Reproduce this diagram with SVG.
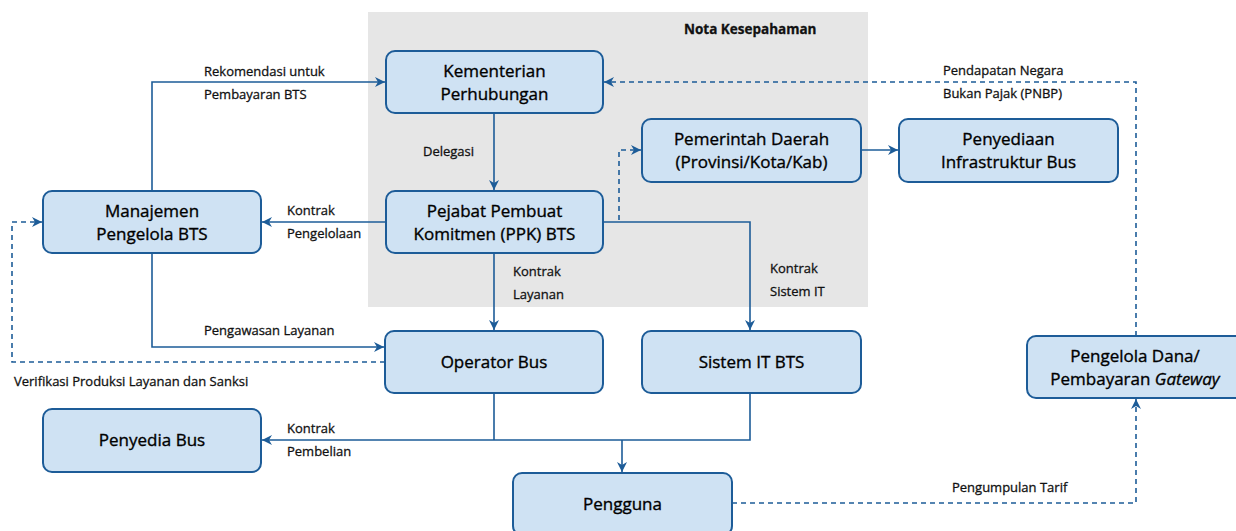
<svg xmlns="http://www.w3.org/2000/svg" width="1236" height="531" viewBox="0 0 1236 531">
<style>
.node rect{fill:#cfe2f3;stroke:#1d5c98;stroke-width:2}
.node text{font-family:"Open Sans","Liberation Sans",sans-serif;font-size:17px;fill:#000;stroke:#000;stroke-width:0.35;text-anchor:middle}
.lbl{font-family:"Open Sans","Liberation Sans",sans-serif;font-size:13px;fill:#111;stroke:#111;stroke-width:0.3}
.c{fill:none;stroke:#1d5c98;stroke-width:1.6}
.d{stroke-dasharray:5 4}
</style>
<defs>
<marker id="a" viewBox="0 0 10 10" refX="10" refY="5" markerWidth="10" markerHeight="10" markerUnits="userSpaceOnUse" orient="auto">
<path d="M0,0 L10,5 L0,10 L3,5 z" fill="#1d5c98"/>
</marker>
</defs>
<rect x="368" y="12" width="500" height="295" fill="#e6e6e6"/>
<text class="lbl" x="684" y="34" style="font-weight:700;font-size:13.5px">Nota Kesepahaman</text>
<g id="connectors">
<path class="c" d="M152,191 V82 H385" marker-end="url(#a)"/>
<path class="c" d="M494,113 V190" marker-end="url(#a)"/>
<path class="c" d="M386,222 H262" marker-end="url(#a)"/>
<path class="c" d="M494,253 V330" marker-end="url(#a)"/>
<path class="c" d="M603,222 H750 V330" marker-end="url(#a)"/>
<path class="c d" d="M619,220 V150 H641" marker-end="url(#a)"/>
<path class="c" d="M861,150 H898" marker-end="url(#a)"/>
<path class="c" d="M152,253 V347 H384" marker-end="url(#a)"/>
<path class="c d" d="M385,362 H12 V222 H42" marker-end="url(#a)"/>
<path class="c" d="M494,393 V440 M750,393 V440 H262" marker-end="url(#a)"/>
<path class="c" d="M622,440 V472" marker-end="url(#a)"/>
<path class="c d" d="M732,503 H1136 V399" marker-end="url(#a)"/>
<path class="c d" d="M1136,336 V82 H604" marker-end="url(#a)"/>
</g>
<g id="labels">
<text class="lbl" x="204" y="76">Rekomendasi untuk</text>
<text class="lbl" x="204" y="99">Pembayaran BTS</text>
<text class="lbl" x="423" y="156">Delegasi</text>
<text class="lbl" x="287" y="215">Kontrak</text>
<text class="lbl" x="287" y="238">Pengelolaan</text>
<text class="lbl" x="513" y="276">Kontrak</text>
<text class="lbl" x="513" y="299">Layanan</text>
<text class="lbl" x="770" y="273">Kontrak</text>
<text class="lbl" x="770" y="296">Sistem IT</text>
<text class="lbl" x="943" y="75">Pendapatan Negara</text>
<text class="lbl" x="943" y="98">Bukan Pajak (PNBP)</text>
<text class="lbl" x="204" y="335">Pengawasan Layanan</text>
<text class="lbl" x="14" y="386">Verifikasi Produksi Layanan dan Sanksi</text>
<text class="lbl" x="287" y="433">Kontrak</text>
<text class="lbl" x="287" y="456">Pembelian</text>
<text class="lbl" x="952" y="492">Pengumpulan Tarif</text>
</g>
<g id="kementerian" class="node"><rect x="386" y="51" width="217" height="62" rx="9"/><text x="494.5" y="77">Kementerian</text><text x="494.5" y="100">Perhubungan</text></g>
<g id="ppk" class="node"><rect x="386" y="191" width="217" height="62" rx="9"/><text x="494.5" y="217">Pejabat Pembuat</text><text x="494.5" y="240">Komitmen (PPK) BTS</text></g>
<g id="pemda" class="node"><rect x="642" y="119" width="219" height="63" rx="9"/><text x="751.5" y="145">Pemerintah Daerah</text><text x="751.5" y="168">(Provinsi/Kota/Kab)</text></g>
<g id="infra" class="node"><rect x="899" y="119" width="219" height="63" rx="9"/><text x="1008.5" y="145">Penyediaan</text><text x="1008.5" y="168">Infrastruktur Bus</text></g>
<g id="manajemen" class="node"><rect x="43" y="191" width="218" height="62" rx="9"/><text x="152" y="217">Manajemen</text><text x="152" y="240">Pengelola BTS</text></g>
<g id="operator" class="node"><rect x="385" y="331" width="218" height="62" rx="9"/><text x="494" y="368">Operator Bus</text></g>
<g id="sistemit" class="node"><rect x="642" y="331" width="219" height="62" rx="9"/><text x="751.5" y="368">Sistem IT BTS</text></g>
<g id="penyedia" class="node"><rect x="43" y="409" width="218" height="63" rx="9"/><text x="152" y="446">Penyedia Bus</text></g>
<g id="pengguna" class="node"><rect x="513" y="473" width="219" height="62" rx="9"/><text x="622.5" y="510">Pengguna</text></g>
<g id="gateway" class="node"><rect x="1027" y="336" width="218" height="62" rx="9"/><text x="1135" y="362">Pengelola Dana/</text><text x="1135" y="385">Pembayaran <tspan font-style="italic">Gateway</tspan></text></g>
</svg>
